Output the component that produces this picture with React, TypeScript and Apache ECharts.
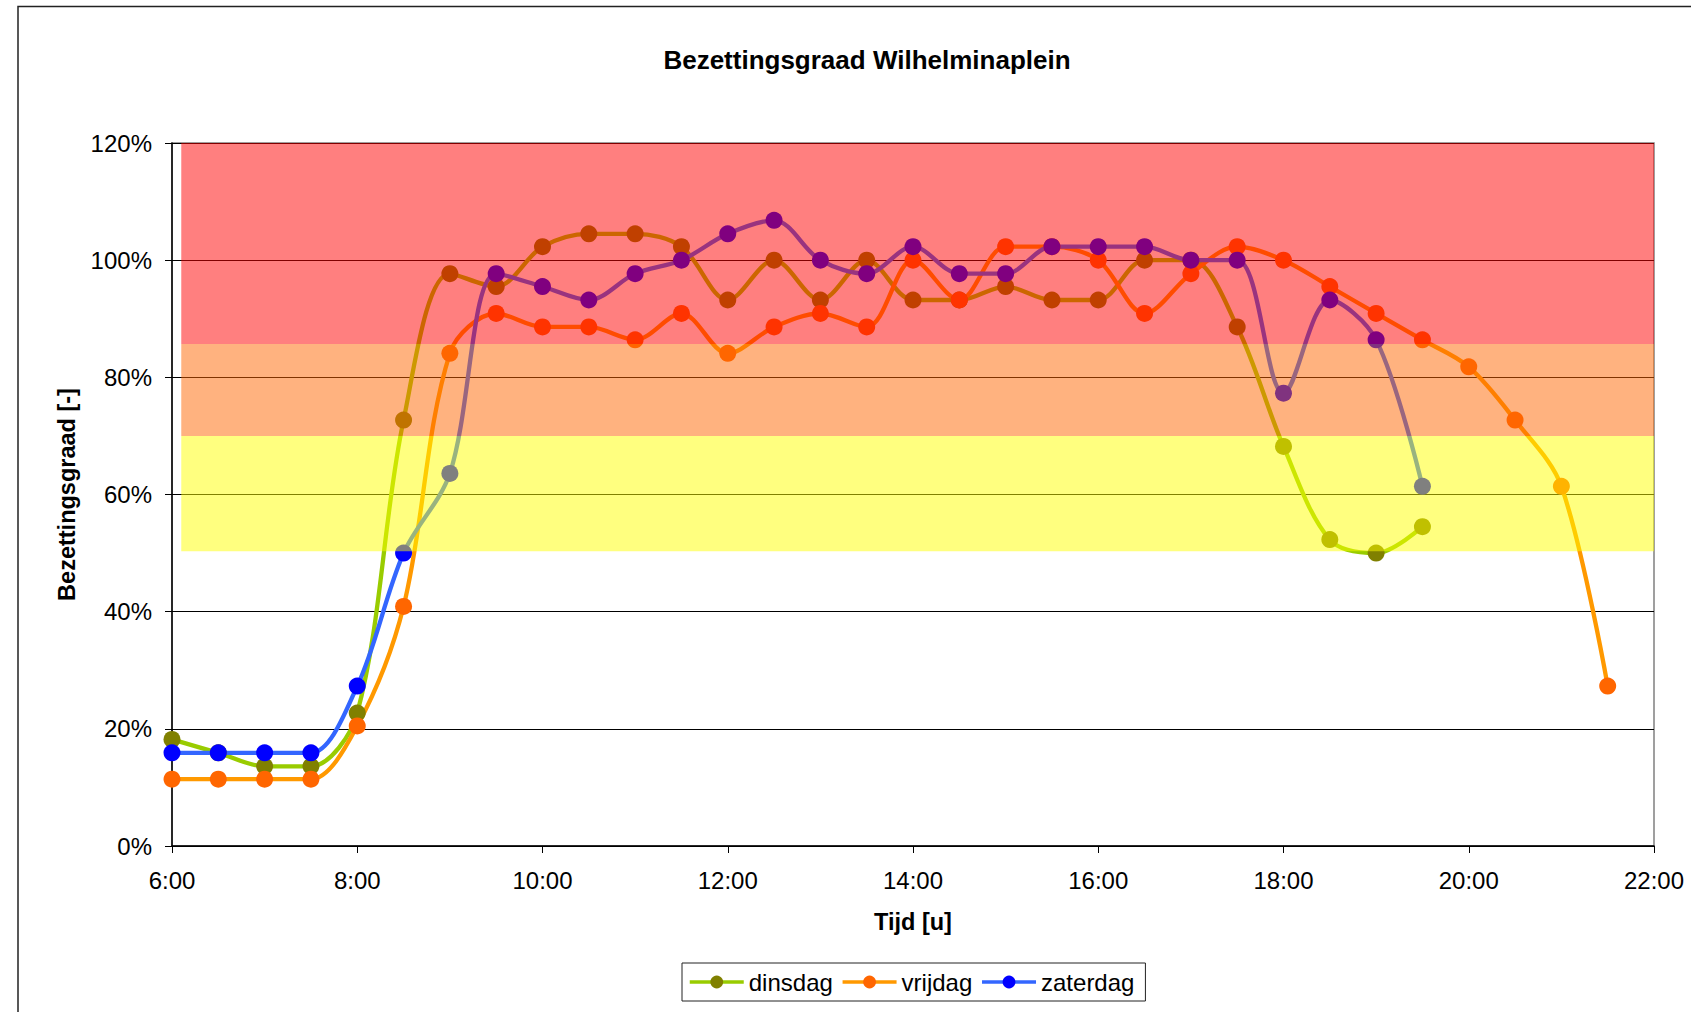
import React, { useEffect, useRef } from "react";
import * as echarts from "echarts";

// time of day in hours (every half hour)
const hours = [
  6, 6.5, 7, 7.5, 8, 8.5, 9, 9.5, 10, 10.5, 11, 11.5, 12, 12.5, 13, 13.5,
  14, 14.5, 15, 15.5, 16, 16.5, 17, 17.5, 18, 18.5, 19, 19.5, 20, 20.5, 21, 21.5,
];

const dinsdag = [
  18.2, 15.9, 13.6, 13.6, 22.7, 72.7, 97.7, 95.5, 102.3, 104.5, 104.5, 102.3,
  93.2, 100, 93.2, 100, 93.2, 93.2, 95.5, 93.2, 93.2, 100, 100, 88.6, 68.2,
  52.3, 50, 54.5,
];

const vrijdag = [
  11.4, 11.4, 11.4, 11.4, 20.5, 40.9, 84.1, 90.9, 88.6, 88.6, 86.4, 90.9,
  84.1, 88.6, 90.9, 88.6, 100, 93.2, 102.3, 102.3, 100, 90.9, 97.7, 102.3,
  100, 95.5, 90.9, 86.4, 81.8, 72.7, 61.4, 27.3,
];

const zaterdag = [
  15.9, 15.9, 15.9, 15.9, 27.3, 50, 63.6, 97.7, 95.5, 93.2, 97.7, 100, 104.5,
  106.8, 100, 97.7, 102.3, 97.7, 97.7, 102.3, 102.3, 102.3, 100, 100, 77.3,
  93.2, 86.4, 61.4,
];

// occupancy zones (lower / upper bound, %)
const zoneLower = [50.3, 70, 85.7];
const zoneUpper = [70, 85.7, 120];
const zoneStart = 6.1;
const zoneEnd = 22;

const titleText = "Bezettingsgraad Wilhelminaplein";
const xName = "Tijd [u]";
const yName = "Bezettingsgraad [-]";

const FONT = "'Liberation Sans', Arial, sans-serif";

export default function App() {
  const ref = useRef<HTMLDivElement>(null);

  useEffect(() => {
    if (!ref.current) return;
    const chart = echarts.init(ref.current, null, { renderer: "svg" });
    const zoneColors = [
      "rgba(255,255,0,0.5)",
      "rgba(255,102,0,0.5)",
      "rgba(255,0,0,0.5)",
    ];
    const pts = (vals: number[]) => vals.map((v, i) => [hours[i], v]);
    const baseSeries = (name: string, vals: number[], line: string, mark: string) => ({
      name,
      type: "line",
      data: pts(vals),
      smooth: 0.33,
      symbol: "circle",
      symbolSize: 17,
      lineStyle: { color: line, width: 4.3 },
      itemStyle: { color: mark, borderWidth: 0 },
      emphasis: { disabled: true },
      z: 2,
    });
    const zat: any = baseSeries("zaterdag", zaterdag, "#3366ff", "#0000ff");
    zat.markArea = {
      silent: true,
      z: 10,
      data: zoneLower.map((lo, i) => [
        { xAxis: zoneStart, yAxis: lo, itemStyle: { color: zoneColors[i], borderWidth: 0 } },
        { xAxis: zoneEnd, yAxis: zoneUpper[i] },
      ]),
    };

    chart.setOption({
      animation: false,
      backgroundColor: "#fff",
      textStyle: { fontFamily: FONT },
      graphic: [
        {
          type: "rect",
          shape: { x: 18, y: 6.5, width: 1800, height: 1200 },
          style: { fill: "none", stroke: "#222", lineWidth: 1.5 },
          silent: true,
        },
        {
          type: "text",
          style: {
            text: titleText,
            x: 867,
            y: 60,
            align: "center",
            verticalAlign: "middle",
            font: `bold 26px ${FONT}`,
            fill: "#000",
          },
          silent: true,
        },
      ],
      grid: {
        left: 172,
        right: 37,
        top: 143,
        bottom: 166,
        show: true,
        borderColor: "#808080",
        borderWidth: 1.5,
        backgroundColor: "transparent",
      },
      legend: {
        left: 682,
        top: 963,
        itemWidth: 54,
        itemHeight: 16,
        itemGap: 8,
        padding: [7, 11, 7, 6],
        borderColor: "#222",
        borderWidth: 1,
        lineStyle: { width: 3.5 },
        textStyle: { fontSize: 24, fontFamily: FONT, color: "#000" },
        data: ["dinsdag", "vrijdag", "zaterdag"],
      },
      xAxis: {
        type: "value",
        min: 6,
        max: 22,
        interval: 2,
        name: xName,
        nameLocation: "middle",
        nameGap: 64,
        nameTextStyle: { fontSize: 23.5, fontWeight: "bold", color: "#000", fontFamily: FONT },
        axisLine: { lineStyle: { color: "#000", width: 1.5 } },
        axisTick: { show: true, length: 7, lineStyle: { color: "#000" } },
        axisLabel: {
          margin: 22,
          fontSize: 24,
          color: "#000",
          fontFamily: FONT,
          formatter: (v: number) => `${v}:00`,
        },
        splitLine: { show: false },
      },
      yAxis: {
        type: "value",
        min: 0,
        max: 120,
        interval: 20,
        name: yName,
        nameLocation: "middle",
        nameGap: 93,
        nameTextStyle: { fontSize: 23.5, fontWeight: "bold", color: "#000", fontFamily: FONT },
        axisLine: { show: true, lineStyle: { color: "#000", width: 1.5 } },
        axisTick: { show: true, length: 7, lineStyle: { color: "#000" } },
        axisLabel: {
          margin: 20,
          fontSize: 24,
          color: "#000",
          fontFamily: FONT,
          formatter: (v: number) => `${v}%`,
        },
        splitLine: { show: true, lineStyle: { color: "#000", width: 1 } },
      },
      series: [
        baseSeries("dinsdag", dinsdag, "#99cc00", "#808000"),
        baseSeries("vrijdag", vrijdag, "#ff9900", "#ff6600"),
        zat,
      ],
    });
    return () => chart.dispose();
  }, []);

  return (
    <div
      ref={ref}
      style={{ position: "fixed", left: 0, top: 0, width: 1691, height: 1012 }}
    />
  );
}
